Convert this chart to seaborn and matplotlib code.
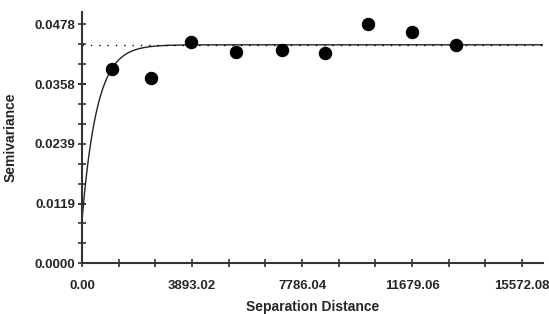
import numpy as np
import pandas as pd
import matplotlib
matplotlib.use("Agg")
import matplotlib.pyplot as plt
import seaborn as sns

distance = [1051, 2442, 3857, 5450, 7067, 8600, 10133, 11668, 13236]
semivariance = [0.0389, 0.0370, 0.0443, 0.0423, 0.0427, 0.0420, 0.0479, 0.0463, 0.0437]

# Fitted exponential model parameters
nugget = 0.0087
sill = 0.0437
range_a = 530.0

x_ticks = [0.00, 3893.02, 7786.04, 11679.06, 15572.08]
y_ticks = [0.0000, 0.0119, 0.0239, 0.0358, 0.0478]

sns.set_style("ticks")
plt.rcParams["font.family"] = ["Liberation Sans", "DejaVu Sans"]

fig = plt.figure(figsize=(5.49, 3.14), dpi=100)
ax = fig.add_axes([0.1494, 0.1615, 0.8397, 0.8003])

xmax = 16315
ymax = 0.05026

# model curve
h = np.linspace(0, xmax, 600)
gamma = nugget + (sill - nugget) * (1 - np.exp(-h / range_a))
model = pd.DataFrame({"h": h, "gamma": gamma})
sns.lineplot(data=model, x="h", y="gamma", ax=ax, color="#222222", linewidth=1.0)

# sill reference line
ax.axhline(sill, color="black", linestyle=(0, (1, 5)), linewidth=1.0)

pts = pd.DataFrame({"distance": distance, "semivariance": semivariance})
sns.scatterplot(data=pts, x="distance", y="semivariance", ax=ax, color="black",
                s=80, edgecolor="black", zorder=5)

ax.set_xlim(0, xmax)
ax.set_ylim(0, ymax)
ax.set_xticks(x_ticks)
ax.set_xticklabels([f"{v:.2f}" for v in x_ticks])
ax.set_xticks(np.arange(1, 13) * 3893.02 / 3, minor=True)
ax.set_yticks(y_ticks)
ax.set_yticklabels([f"{v:.4f}" for v in y_ticks])
ax.set_yticks(np.arange(1, 13) * 0.0478 / 12, minor=True)

for s in ["top", "right"]:
    ax.spines[s].set_visible(False)
for s in ["left", "bottom"]:
    ax.spines[s].set_color("#333333")
    ax.spines[s].set_linewidth(1.5)

ax.tick_params(axis="both", which="both", direction="inout", color="#333333",
               width=1.2, length=6, left=True, bottom=True)
ax.tick_params(axis="x", which="major", pad=9)
ax.tick_params(axis="y", which="major", pad=2)
for lab in ax.get_xticklabels() + ax.get_yticklabels():
    lab.set_fontweight("bold")
    lab.set_fontsize(9.5)

ax.set_xlabel("Separation Distance", fontsize=10, fontweight="bold", labelpad=6)
ax.set_ylabel("Semivariance", fontsize=10, fontweight="bold", labelpad=12)

fig.savefig("out.png", dpi=100)
